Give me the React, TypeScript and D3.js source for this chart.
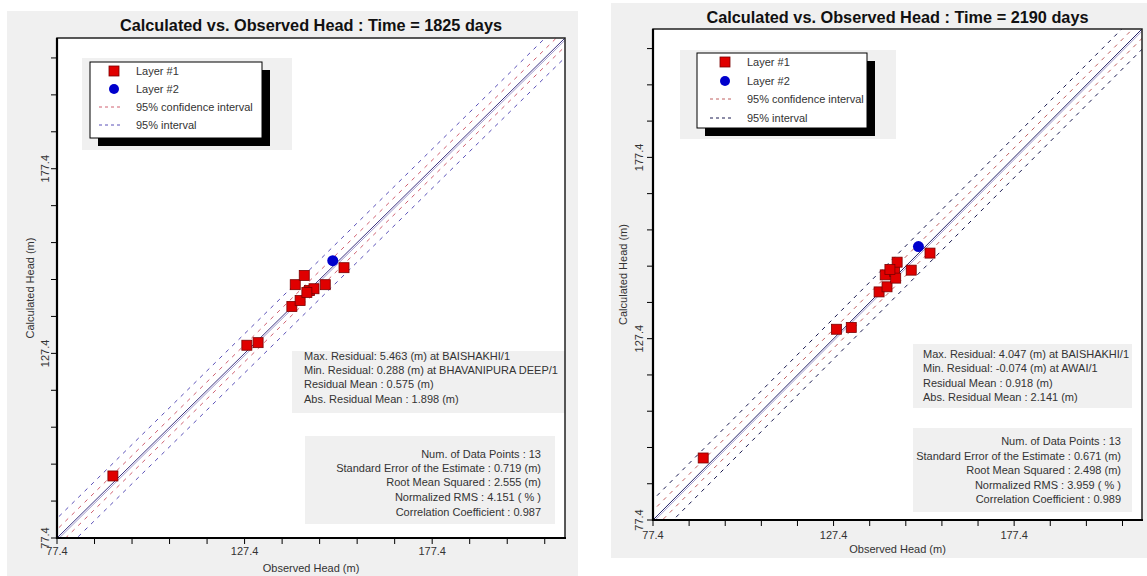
import React from "react";
import * as d3 from "d3";

// ---------- data ----------
const axisTicks = [77.4, 127.4, 177.4];
const minorStep = 10;
const domainMin = 77.4;
const domainMax = 212.8;

const titles = ["Calculated vs. Observed Head : Time = 1825 days", "Calculated vs. Observed Head : Time = 2190 days"];

const obs1825L1 = [92.3, 128.0, 131.0, 140.0, 142.2, 140.9, 143.3, 144.7, 145.9, 144.0, 148.9, 153.9];
const calc1825L1 = [94.2, 129.6, 130.3, 140.1, 141.7, 146.0, 148.5, 144.4, 144.9, 143.9, 146.0, 150.6];
const obs1825L2 = [150.9];
const calc1825L2 = [152.5];

const obs2190L1 = [91.3, 128.2, 132.3, 140.0, 142.2, 141.7, 144.3, 145.0, 144.6, 143.0, 148.9, 154.1];
const calc2190L1 = [94.5, 130.0, 130.5, 140.3, 141.7, 145.0, 145.9, 148.5, 144.1, 146.5, 146.3, 151.0];
const obs2190L2 = [150.9];
const calc2190L2 = [152.8];

const legendLabels = ["Layer #1", "Layer #2", "95% confidence interval", "95% interval"];

const residual1825 = [
  "Max. Residual: 5.463 (m) at BAISHAKHI/1",
  "Min. Residual: 0.288 (m) at BHAVANIPURA DEEP/1",
  "Residual Mean : 0.575 (m)",
  "Abs. Residual Mean : 1.898 (m)",
];
const stats1825 = [
  "Num. of Data Points : 13",
  "Standard Error of the Estimate : 0.719 (m)",
  "Root Mean Squared : 2.555 (m)",
  "Normalized RMS : 4.151 ( % )",
  "Correlation Coefficient : 0.987",
];
const residual2190 = [
  "Max. Residual: 4.047 (m) at BAISHAKHI/1",
  "Min. Residual: -0.074 (m) at AWAI/1",
  "Residual Mean : 0.918 (m)",
  "Abs. Residual Mean : 2.141 (m)",
];
const stats2190 = [
  "Num. of Data Points : 13",
  "Standard Error of the Estimate : 0.671 (m)",
  "Root Mean Squared : 2.498 (m)",
  "Normalized RMS : 3.959 ( % )",
  "Correlation Coefficient : 0.989",
];

// band offsets (data units) : confidence, prediction
const confOffset1825 = 2.3;
const predOffset1825 = 5.3;
const confOffset2190 = 2.6;
const predOffset2190 = 5.6;

const FONT = "'Liberation Sans', Arial, sans-serif";

type Box = { x: number; y: number; w: number; h: number };

interface PanelCfg {
  title: string;
  panel: Box;
  plot: { l: number; t: number; r: number; b: number };
  titleY: number;
  legendBg: Box;
  legendBox: Box;
  legendRowY: number[];
  legendMarkerX: number;
  legendTextX: number;
  res: string[];
  resBox: Box;
  resTextX: number;
  resRowY: number[];
  stats: string[];
  statsBox: Box;
  statsTextX: number;
  statsRowY: number[];
  obsL1: number[];
  calcL1: number[];
  obsL2: number[];
  calcL2: number[];
  conf: number;
  pred: number;
  confColor: string;
  predColor: string;
  solidColor: string;
  xLabelY: number;
  xTitleY: number;
  yLabelX: number;
  yTitleX: number;
  id: string;
}

function Panel({ c }: { c: PanelCfg }) {
  const { plot } = c;
  const x = d3.scaleLinear().domain([domainMin, domainMax]).range([plot.l, plot.r]);
  const y = d3.scaleLinear().domain([domainMin, domainMax]).range([plot.b, plot.t]);
  const minor = d3.range(domainMin, domainMax, minorStep);
  const line = d3
    .line<[number, number]>()
    .x((d) => x(d[0]))
    .y((d) => y(d[1]));
  const diag = (off: number) =>
    line([
      [domainMin - 20, domainMin - 20 + off],
      [domainMax + 20, domainMax + 20 + off],
    ]) as string;
  const sq = 10;
  const cx = (plot.l + plot.r) / 2;
  const cy = (plot.t + plot.b) / 2;
  return (
    <g>
      <rect x={c.panel.x} y={c.panel.y} width={c.panel.w} height={c.panel.h} fill="#f0f0f0" />
      <text x={cx} y={c.titleY} textAnchor="middle" fontFamily={FONT} fontWeight="bold" fontSize={16.3} fill="#111">
        {c.title}
      </text>
      <defs>
        <clipPath id={`clip-${c.id}`}>
          <rect x={plot.l} y={plot.t} width={plot.r - plot.l} height={plot.b - plot.t} />
        </clipPath>
      </defs>
      <rect x={plot.l} y={plot.t} width={plot.r - plot.l} height={plot.b - plot.t} fill="#fff" />
      <g clipPath={`url(#clip-${c.id})`}>
        <path d={diag(c.pred)} stroke={c.predColor} strokeWidth={1} strokeDasharray="4,5" fill="none" />
        <path d={diag(-c.pred)} stroke={c.predColor} strokeWidth={1} strokeDasharray="4,5" fill="none" />
        <path d={diag(c.conf)} stroke={c.confColor} strokeWidth={1} strokeDasharray="4,5" fill="none" />
        <path d={diag(-c.conf)} stroke={c.confColor} strokeWidth={1} strokeDasharray="4,5" fill="none" />
        <path d={diag(0)} stroke={c.solidColor} strokeWidth={1} fill="none" />
        <path d={diag(-0.6)} stroke="#8a82c0" strokeWidth={0.8} fill="none" />
      </g>
      {/* legend */}
      <rect x={c.legendBg.x} y={c.legendBg.y} width={c.legendBg.w} height={c.legendBg.h} fill="#f0f0f0" />
      <rect x={c.legendBox.x + 8} y={c.legendBox.y + 8} width={c.legendBox.w} height={c.legendBox.h} fill="#000" />
      <rect x={c.legendBox.x} y={c.legendBox.y} width={c.legendBox.w} height={c.legendBox.h} fill="#fff" stroke="#000" strokeWidth={1} />
      <rect x={c.legendMarkerX - 5} y={c.legendRowY[0] - 5} width={10} height={10} fill="#e00000" stroke="#7a0000" strokeWidth={0.8} />
      <circle cx={c.legendMarkerX} cy={c.legendRowY[1]} r={5} fill="#0000cc" />
      <line x1={c.legendMarkerX - 15} x2={c.legendMarkerX + 8} y1={c.legendRowY[2]} y2={c.legendRowY[2]} stroke={c.confColor} strokeDasharray="3,3" />
      <line x1={c.legendMarkerX - 15} x2={c.legendMarkerX + 8} y1={c.legendRowY[3]} y2={c.legendRowY[3]} stroke={c.predColor} strokeDasharray="3,3" />
      {legendLabels.map((t, i) => (
        <text key={t} x={c.legendTextX} y={c.legendRowY[i] + 4} fontFamily={FONT} fontSize={11} fill="#333">
          {t}
        </text>
      ))}
      {/* residual box */}
      <rect x={c.resBox.x} y={c.resBox.y} width={c.resBox.w} height={c.resBox.h} fill="#f0f0f0" />
      {c.res.map((t, i) => (
        <text key={t} x={c.resTextX} y={c.resRowY[i]} fontFamily={FONT} fontSize={11} fill="#333">
          {t}
        </text>
      ))}
      <rect x={c.statsBox.x} y={c.statsBox.y} width={c.statsBox.w} height={c.statsBox.h} fill="#f0f0f0" />
      {c.stats.map((t, i) => (
        <text key={t} x={c.statsTextX} y={c.statsRowY[i]} textAnchor="end" fontFamily={FONT} fontSize={11} fill="#333">
          {t}
        </text>
      ))}
      {/* points */}
      {c.obsL1.map((o, i) => (
        <rect key={i} x={x(o) - sq / 2} y={y(c.calcL1[i]) - sq / 2} width={sq} height={sq} fill="#e00000" stroke="#7a0000" strokeWidth={0.8} />
      ))}
      {c.obsL2.map((o, i) => (
        <circle key={i} cx={x(o)} cy={y(c.calcL2[i])} r={5.5} fill="#0000cc" />
      ))}
      {/* frame */}
      <rect x={plot.l} y={plot.t} width={plot.r - plot.l} height={plot.b - plot.t} fill="none" stroke="#222" strokeWidth={1.5} />
      <line x1={plot.l} x2={plot.r + 1} y1={plot.b} y2={plot.b} stroke="#000" strokeWidth={2.2} />
      <line x1={plot.l} x2={plot.l} y1={plot.t} y2={plot.b + 1} stroke="#000" strokeWidth={2.2} />
      {minor.map((v) => (
        <g key={v}>
          <line x1={x(v)} x2={x(v)} y1={plot.b} y2={plot.b + 6} stroke="#000" strokeWidth={1} />
          <line x1={plot.l - 6} x2={plot.l} y1={y(v)} y2={y(v)} stroke="#000" strokeWidth={1} />
        </g>
      ))}
      {axisTicks.map((v) => (
        <g key={v}>
          <text x={x(v)} y={c.xLabelY} textAnchor="middle" fontFamily={FONT} fontSize={11} fill="#333">
            {v.toFixed(1)}
          </text>
          <text transform={`translate(${c.yLabelX},${y(v)}) rotate(-90)`} textAnchor="middle" fontFamily={FONT} fontSize={11} fill="#333">
            {v.toFixed(1)}
          </text>
        </g>
      ))}
      <text x={cx} y={c.xTitleY} textAnchor="middle" fontFamily={FONT} fontSize={11} fill="#333">
        Observed Head (m)
      </text>
      <text transform={`translate(${c.yTitleX},${cy}) rotate(-90)`} textAnchor="middle" fontFamily={FONT} fontSize={11} fill="#333">
        Calculated Head (m)
      </text>
    </g>
  );
}

const leftCfg: PanelCfg = {
  id: "a",
  title: titles[0],
  panel: { x: 7, y: 11, w: 571, h: 565 },
  plot: { l: 57, t: 38, r: 565, b: 538 },
  titleY: 31,
  legendBg: { x: 82, y: 58, w: 210, h: 92 },
  legendBox: { x: 90, y: 62, w: 172, h: 76 },
  legendRowY: [71, 89, 107, 125],
  legendMarkerX: 114,
  legendTextX: 136,
  res: residual1825,
  resBox: { x: 292, y: 351, w: 273, h: 62 },
  resTextX: 304,
  resRowY: [360, 374, 388, 403],
  stats: stats1825,
  statsBox: { x: 305, y: 436, w: 250, h: 88 },
  statsTextX: 541,
  statsRowY: [458, 472, 486, 501, 516],
  obsL1: obs1825L1,
  calcL1: calc1825L1,
  obsL2: obs1825L2,
  calcL2: calc1825L2,
  conf: confOffset1825,
  pred: predOffset1825,
  confColor: "#d06070",
  predColor: "#5a50b8",
  solidColor: "#3c3480",
  xLabelY: 555,
  xTitleY: 572,
  yLabelX: 49,
  yTitleX: 34,
};

const rightCfg: PanelCfg = {
  id: "b",
  title: titles[1],
  panel: { x: 611, y: 3, w: 536, h: 555 },
  plot: { l: 653, t: 29, r: 1142, b: 520 },
  titleY: 23,
  legendBg: { x: 680, y: 50, w: 216, h: 89 },
  legendBox: { x: 697, y: 53, w: 170, h: 75 },
  legendRowY: [62, 81, 99, 118],
  legendMarkerX: 725,
  legendTextX: 747,
  res: residual2190,
  resBox: { x: 913, y: 344, w: 219, h: 64 },
  resTextX: 923,
  resRowY: [358, 372, 387, 401],
  stats: stats2190,
  statsBox: { x: 913, y: 428, w: 219, h: 84 },
  statsTextX: 1121,
  statsRowY: [445, 460, 474, 489, 503],
  obsL1: obs2190L1,
  calcL1: calc2190L1,
  obsL2: obs2190L2,
  calcL2: calc2190L2,
  conf: confOffset2190,
  pred: predOffset2190,
  confColor: "#c06060",
  predColor: "#1a1a50",
  solidColor: "#222266",
  xLabelY: 539,
  xTitleY: 553,
  yLabelX: 643,
  yTitleX: 627,
};

export default function App() {
  return (
    <svg width={1147} height={576} style={{ position: "absolute", left: 0, top: 0, background: "#fff" }}>
      <Panel c={leftCfg} />
      <Panel c={rightCfg} />
    </svg>
  );
}
